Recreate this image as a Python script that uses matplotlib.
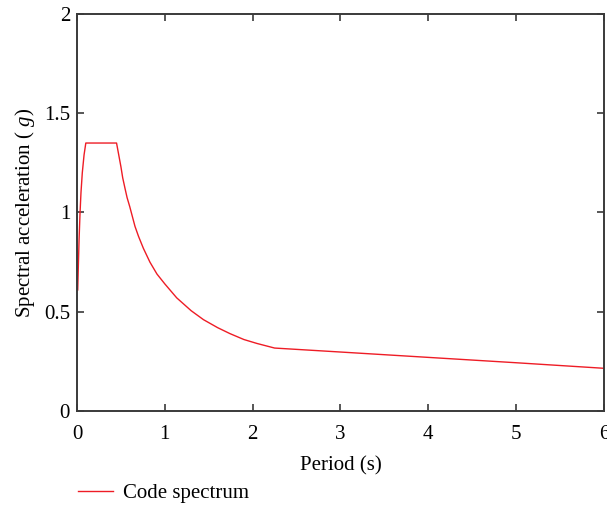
import matplotlib
matplotlib.use("Agg")
import matplotlib.pyplot as plt
from matplotlib.lines import Line2D

period = [0.008, 0.015, 0.023, 0.034, 0.045, 0.06, 0.08, 0.10, 0.45, 0.475,
          0.50, 0.52, 0.547, 0.57, 0.60, 0.63, 0.66, 0.70, 0.755, 0.83, 0.91,
          1.0, 1.135, 1.30, 1.44, 1.60, 1.74, 1.90, 2.05, 2.25, 3.0, 4.0,
          5.0, 6.0]
sa = [0.61, 0.73, 0.86, 0.995, 1.10, 1.20, 1.29, 1.35, 1.35, 1.29,
      1.23, 1.175, 1.12, 1.075, 1.03, 0.98, 0.93, 0.88, 0.82, 0.75, 0.69,
      0.64, 0.57, 0.505, 0.46, 0.42, 0.39, 0.36, 0.34, 0.317, 0.297, 0.270,
      0.243, 0.215]

xticks = [0, 1, 2, 3, 4, 5, 6]
yticks = [0, 0.5, 1, 1.5, 2]
ytick_labels = ["0", "0.5", "1", "1.5", "2"]

plt.rcParams['font.family'] = ['Liberation Serif', 'DejaVu Serif']
plt.rcParams['mathtext.fontset'] = 'custom'
plt.rcParams['mathtext.it'] = 'Liberation Serif:italic'
plt.rcParams['mathtext.rm'] = 'Liberation Serif'

axis_col = '#3a3a3a'
red = '#ee1c25'
fs = 15

fig = plt.figure(figsize=(6.07, 5.08), dpi=100)
ax = fig.add_axes([0.1269, 0.191, 0.8681, 0.7814])

ax.plot(period, sa, color=red, lw=1.0)

ax.set_xlim(0, 6)
ax.set_ylim(0, 2)
ax.set_xticks(xticks)
ax.set_yticks(yticks)
ax.set_yticklabels(ytick_labels)
ax.tick_params(direction='in', length=5, width=1.2, color=axis_col,
               labelsize=fs, top=True, right=True)
ax.tick_params(axis='x', pad=10)
ax.tick_params(axis='y', pad=5)
for s in ax.spines.values():
    s.set_color(axis_col)
    s.set_linewidth(1.4)

ax.set_xlabel('Period (s)', fontsize=fs, labelpad=9)
ax.set_ylabel('Spectral acceleration ( $g$)', fontsize=fs, labelpad=5)

handle = Line2D([], [], color=red, lw=1.0)
fig.legend([handle], ['Code spectrum'], loc='center left',
           bbox_to_anchor=(0.097, 0.0295), frameon=False, fontsize=fs,
           handlelength=1.7, handletextpad=0.5)

fig.savefig('out.png', dpi=100)
